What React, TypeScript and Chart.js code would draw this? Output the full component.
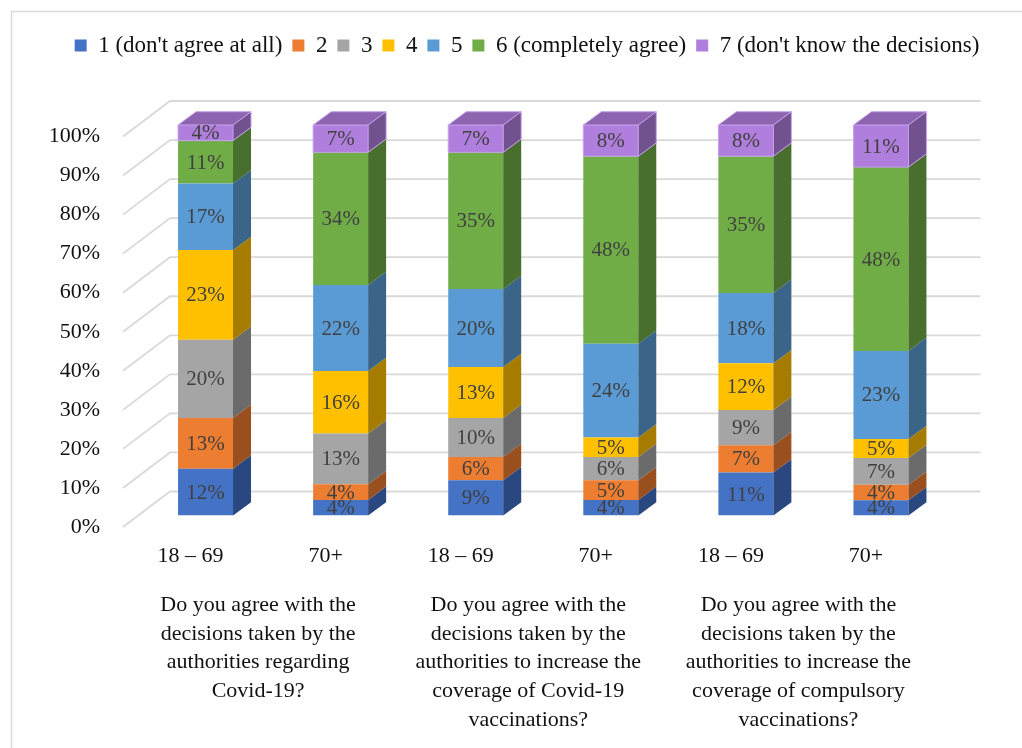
import React, { useEffect, useRef } from 'react';
import { Chart, registerables } from 'chart.js';

Chart.register(...registerables);

const categories = ['18 – 69', '70+', '18 – 69', '70+', '18 – 69', '70+'];
const groupLabels = [
  ['Do you agree with the', 'decisions taken by the', 'authorities regarding', 'Covid-19?'],
  ['Do you agree with the', 'decisions taken by the', 'authorities to increase the', 'coverage of Covid-19', 'vaccinations?'],
  ['Do you agree with the', 'decisions taken by the', 'authorities to increase the', 'coverage of compulsory', 'vaccinations?'],
];
const seriesNames = [
  "1 (don't agree at all)",
  '2',
  '3',
  '4',
  '5',
  '6 (completely agree)',
  "7 (don't know the decisions)",
];
const answer1 = [12, 4, 9, 4, 11, 4];
const answer2 = [13, 4, 6, 5, 7, 4];
const answer3 = [20, 13, 10, 6, 9, 7];
const answer4 = [23, 16, 13, 5, 12, 5];
const answer5 = [17, 22, 20, 24, 18, 23];
const answer6 = [11, 34, 35, 48, 35, 48];
const answer7 = [4, 7, 7, 8, 8, 11];
const seriesValues = [answer1, answer2, answer3, answer4, answer5, answer6, answer7];

const frontColors = ['#4472C4', '#ED7D31', '#A5A5A5', '#FFC000', '#5B9BD5', '#70AD47', '#B07EDC'];
const sideColors = ['#2A4780', '#9A4F1F', '#6B6B6B', '#A67C00', '#3A6488', '#486F2D', '#72518F'];
const topColor = '#8D64AF';
const topEdge = '#C8A2EE';

const FONT = 'Liberation Serif';
const FRONT = { dx: -15, dy: 11.5 };
const BAR_BACK = { dx: 18, dy: -13.3 };
const WALL_BACK = { dx: 32, dy: -24 };

const totals = categories.map((_, i) => seriesValues.reduce((s, arr) => s + arr[i], 0));

const threeD = {
  id: 'threeD',
  beforeDraw(chart: any) {
    const { ctx } = chart;
    ctx.save();
    ctx.fillStyle = '#ffffff';
    ctx.fillRect(0, 0, chart.width, chart.height);
    ctx.strokeStyle = '#d9d9d9';
    ctx.lineWidth = 1.5;
    ctx.strokeRect(11.5, 11.5, 2000, 2000);
    ctx.restore();
  },
  beforeDatasetsDraw(chart: any) {
    const { ctx, chartArea, scales } = chart;
    const y = scales.y;
    ctx.save();
    ctx.strokeStyle = '#d9d9d9';
    ctx.lineWidth = 1.8;
    y.ticks.forEach((t: any) => {
      const py = y.getPixelForValue(t.value);
      ctx.beginPath();
      ctx.moveTo(chartArea.left + FRONT.dx, py + FRONT.dy);
      ctx.lineTo(chartArea.left + WALL_BACK.dx, py + WALL_BACK.dy);
      ctx.lineTo(chartArea.right + WALL_BACK.dx, py + WALL_BACK.dy);
      ctx.stroke();
    });
    ctx.restore();
  },
  afterDatasetsDraw(chart: any) {
    const { ctx } = chart;
    const n = chart.data.datasets.length;
    ctx.save();
    for (let d = 0; d < n; d++) {
      const meta = chart.getDatasetMeta(d);
      meta.data.forEach((el: any) => {
        const { x, y, base, width } = el.getProps(['x', 'y', 'base', 'width'], true);
        const r = x + width / 2;
        const l = x - width / 2;
        const top = Math.min(y, base);
        const bot = Math.max(y, base);
        ctx.fillStyle = sideColors[d];
        ctx.beginPath();
        ctx.moveTo(r, top);
        ctx.lineTo(r + BAR_BACK.dx, top + BAR_BACK.dy);
        ctx.lineTo(r + BAR_BACK.dx, bot + BAR_BACK.dy);
        ctx.lineTo(r, bot);
        ctx.closePath();
        ctx.fill();
        if (d === n - 1) {
          ctx.fillStyle = topColor;
          ctx.beginPath();
          ctx.moveTo(l, top);
          ctx.lineTo(l + BAR_BACK.dx, top + BAR_BACK.dy);
          ctx.lineTo(r + BAR_BACK.dx, top + BAR_BACK.dy);
          ctx.lineTo(r, top);
          ctx.closePath();
          ctx.fill();
          ctx.strokeStyle = topEdge;
          ctx.lineWidth = 1;
          ctx.beginPath();
          ctx.moveTo(l, bot);
          ctx.lineTo(l, top);
          ctx.lineTo(l + BAR_BACK.dx, top + BAR_BACK.dy);
          ctx.lineTo(r + BAR_BACK.dx, top + BAR_BACK.dy);
          ctx.lineTo(r + BAR_BACK.dx, bot + BAR_BACK.dy);
          ctx.lineTo(r, bot);
          ctx.lineTo(l, bot);
          ctx.moveTo(r, bot);
          ctx.lineTo(r, top);
          ctx.lineTo(l, top);
          ctx.moveTo(r, top);
          ctx.lineTo(r + BAR_BACK.dx, top + BAR_BACK.dy);
          ctx.stroke();
        }
      });
    }
    ctx.fillStyle = '#404040';
    ctx.font = `21px "${FONT}"`;
    ctx.textAlign = 'center';
    ctx.textBaseline = 'middle';
    for (let d = 0; d < n; d++) {
      const meta = chart.getDatasetMeta(d);
      meta.data.forEach((el: any, i: number) => {
        const { x, y, base } = el.getProps(['x', 'y', 'base'], true);
        ctx.fillText(`${seriesValues[d][i]}%`, x, (y + base) / 2 + 1);
      });
    }
    ctx.restore();
  },
};

export default function App() {
  const canvasRef = useRef<HTMLCanvasElement | null>(null);

  useEffect(() => {
    if (!canvasRef.current) return;
    const datasets = seriesNames.map((name, d) => ({
      label: name,
      data: seriesValues[d].map((v, i) => (v / totals[i]) * 100),
      backgroundColor: frontColors[d],
      borderWidth: 0,
      barPercentage: 0.407,
      categoryPercentage: 1,
      xAxisID: 'x',
      yAxisID: 'y',
    }));
    const chart = new Chart(canvasRef.current, {
      type: 'bar',
      data: { labels: categories, datasets },
      plugins: [threeD],
      options: {
        responsive: false,
        animation: false,
        events: [],
        layout: { padding: { left: 32, right: 0, top: 24, bottom: 0 } },
        plugins: {
          tooltip: { enabled: false },
          legend: {
            position: 'top',
            align: 'center',
            labels: {
              boxWidth: 12,
              boxHeight: 12,
              padding: 10,
              color: '#111111',
              font: { family: FONT, size: 23 },
            },
          },
        },
        scales: {
          x: {
            type: 'category',
            stacked: true,
            position: 'bottom',
            weight: 0,
            grid: { display: false, drawTicks: false },
            border: { display: false },
            ticks: {
              font: { family: FONT, size: 22 },
              color: '#111111',
              padding: 28,
              labelOffset: -15,
              maxRotation: 0,
              autoSkip: false,
            },
            afterFit: (s: any) => {
              s.height = 70;
            },
          },
          y: {
            type: 'linear',
            stacked: true,
            position: 'left',
            min: 0,
            max: 100,
            grid: { display: false, drawTicks: false },
            border: { display: false },
            ticks: {
              stepSize: 10,
              callback: (v: any) => `${v}%`,
              font: { family: FONT, size: 22 },
              color: '#111111',
              padding: 38,
              labelOffset: 11.5,
            },
            afterFit: (s: any) => {
              s.width = 106;
            },
          },
          x2: {
            type: 'category',
            axis: 'x',
            position: 'bottom',
            weight: 1,
            labels: groupLabels as any,
            offset: true,
            grid: { display: false, drawTicks: false },
            border: { display: false },
            ticks: {
              font: { family: FONT, size: 22, lineHeight: 1.31 },
              color: '#111111',
              padding: 5,
              labelOffset: -15,
              maxRotation: 0,
              autoSkip: false,
            },
            afterFit: (s: any) => {
              s.height = 162.5;
            },
          },
          xSpacer: {
            type: 'category',
            axis: 'x',
            position: 'top',
            labels: ['a'],
            grid: { display: false, drawTicks: false },
            border: { display: false },
            ticks: { display: false },
            afterFit: (s: any) => {
              s.height = 58;
            },
          },
          ySpacer: {
            type: 'linear',
            axis: 'y',
            position: 'right',
            min: 0,
            max: 1,
            grid: { display: false, drawTicks: false },
            border: { display: false },
            ticks: { display: false },
            afterFit: (s: any) => {
              s.width = 73.5;
            },
          },
        },
      } as any,
    });
    return () => chart.destroy();
  }, []);

  return (
    <div style={{ position: 'absolute', left: 0, top: 0, width: 1022, height: 748, background: '#fff' }}>
      <canvas ref={canvasRef} width={1022} height={748} />
    </div>
  );
}
